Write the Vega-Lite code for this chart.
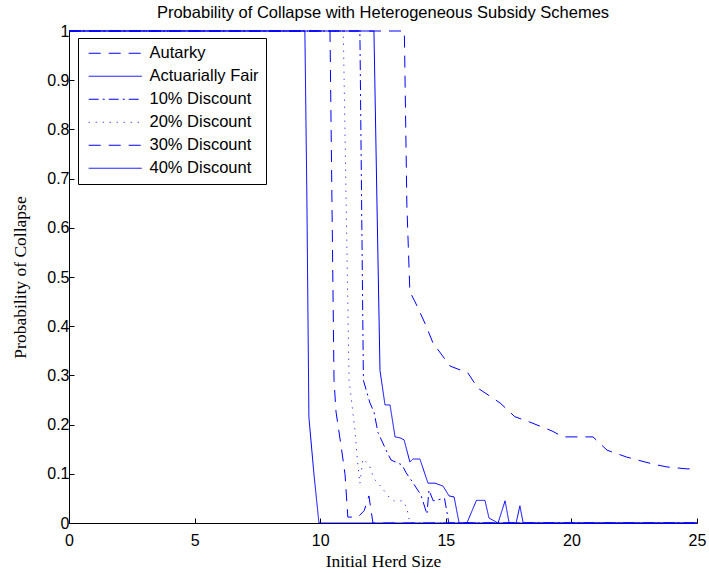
{
  "$schema": "https://vega.github.io/schema/vega-lite/v6.json",
  "width": 628,
  "height": 492,
  "autosize": {"type": "none"},
  "padding": {"left": 69, "top": 31, "right": 12, "bottom": 50},
  "background": "white",
  "title": {
    "text": "Probability of Collapse with Heterogeneous Subsidy Schemes",
    "font": "Liberation Sans",
    "fontSize": 16.5,
    "fontWeight": "normal",
    "color": "black",
    "anchor": "middle",
    "baseline": "alphabetic",
    "frame": "group",
    "offset": 12,
    "dy": 23
  },
  "config": {
    "view": {"stroke": null},
    "axis": {
      "domainColor": "black",
      "tickColor": "black",
      "labelColor": "black",
      "titleColor": "black",
      "grid": false,
      "labelFont": "Liberation Sans",
      "labelFontSize": 16,
      "labelFlush": false,
      "titleFont": "Liberation Serif",
      "titleFontSize": 17.5,
      "titleFontWeight": "normal",
      "tickSize": -5,
      "domainWidth": 1,
      "tickWidth": 1
    }
  },
  "data": {
    "values": [
      {"s": "Autarky", "x": 0, "y": 1},
      {"s": "Autarky", "x": 13.35, "y": 1},
      {"s": "Autarky", "x": 13.45, "y": 0.646},
      {"s": "Autarky", "x": 13.57, "y": 0.47},
      {"s": "Autarky", "x": 13.8, "y": 0.447},
      {"s": "Autarky", "x": 14.17, "y": 0.406},
      {"s": "Autarky", "x": 14.49, "y": 0.366},
      {"s": "Autarky", "x": 15.17, "y": 0.319},
      {"s": "Autarky", "x": 15.88, "y": 0.305},
      {"s": "Autarky", "x": 16.28, "y": 0.274},
      {"s": "Autarky", "x": 17.16, "y": 0.244},
      {"s": "Autarky", "x": 17.75, "y": 0.216},
      {"s": "Autarky", "x": 18.35, "y": 0.205},
      {"s": "Autarky", "x": 19.23, "y": 0.187},
      {"s": "Autarky", "x": 19.67, "y": 0.175},
      {"s": "Autarky", "x": 20.86, "y": 0.175},
      {"s": "Autarky", "x": 21.42, "y": 0.148},
      {"s": "Autarky", "x": 22.2, "y": 0.134},
      {"s": "Autarky", "x": 22.93, "y": 0.124},
      {"s": "Autarky", "x": 23.4, "y": 0.118},
      {"s": "Autarky", "x": 23.8, "y": 0.114},
      {"s": "Autarky", "x": 24.6, "y": 0.11},
      {"s": "Autarky", "x": 25, "y": 0.11},

      {"s": "Actuarially Fair", "x": 0, "y": 1},
      {"s": "Actuarially Fair", "x": 12.14, "y": 1},
      {"s": "Actuarially Fair", "x": 12.26, "y": 0.65},
      {"s": "Actuarially Fair", "x": 12.38, "y": 0.31},
      {"s": "Actuarially Fair", "x": 12.58, "y": 0.24},
      {"s": "Actuarially Fair", "x": 12.78, "y": 0.24},
      {"s": "Actuarially Fair", "x": 12.98, "y": 0.175},
      {"s": "Actuarially Fair", "x": 13.18, "y": 0.173},
      {"s": "Actuarially Fair", "x": 13.34, "y": 0.169},
      {"s": "Actuarially Fair", "x": 13.57, "y": 0.124},
      {"s": "Actuarially Fair", "x": 13.69, "y": 0.13},
      {"s": "Actuarially Fair", "x": 13.97, "y": 0.13},
      {"s": "Actuarially Fair", "x": 14.29, "y": 0.081},
      {"s": "Actuarially Fair", "x": 14.57, "y": 0.081},
      {"s": "Actuarially Fair", "x": 14.89, "y": 0.075},
      {"s": "Actuarially Fair", "x": 15.13, "y": 0.055},
      {"s": "Actuarially Fair", "x": 15.33, "y": 0.053},
      {"s": "Actuarially Fair", "x": 15.53, "y": 0},
      {"s": "Actuarially Fair", "x": 15.84, "y": 0},
      {"s": "Actuarially Fair", "x": 16.22, "y": 0.046},
      {"s": "Actuarially Fair", "x": 16.56, "y": 0.046},
      {"s": "Actuarially Fair", "x": 16.72, "y": 0.01},
      {"s": "Actuarially Fair", "x": 17.08, "y": 0},
      {"s": "Actuarially Fair", "x": 17.36, "y": 0.045},
      {"s": "Actuarially Fair", "x": 17.52, "y": 0},
      {"s": "Actuarially Fair", "x": 17.8, "y": 0},
      {"s": "Actuarially Fair", "x": 17.95, "y": 0.035},
      {"s": "Actuarially Fair", "x": 18.08, "y": 0},
      {"s": "Actuarially Fair", "x": 25, "y": 0},

      {"s": "10% Discount", "x": 0, "y": 1},
      {"s": "10% Discount", "x": 11.58, "y": 1},
      {"s": "10% Discount", "x": 11.72, "y": 0.29},
      {"s": "10% Discount", "x": 11.98, "y": 0.244},
      {"s": "10% Discount", "x": 12.14, "y": 0.226},
      {"s": "10% Discount", "x": 12.3, "y": 0.184},
      {"s": "10% Discount", "x": 12.66, "y": 0.144},
      {"s": "10% Discount", "x": 12.82, "y": 0.128},
      {"s": "10% Discount", "x": 13.26, "y": 0.118},
      {"s": "10% Discount", "x": 13.42, "y": 0.102},
      {"s": "10% Discount", "x": 13.65, "y": 0.085},
      {"s": "10% Discount", "x": 14.01, "y": 0.057},
      {"s": "10% Discount", "x": 14.25, "y": 0.018},
      {"s": "10% Discount", "x": 14.33, "y": 0.067},
      {"s": "10% Discount", "x": 14.5, "y": 0.045},
      {"s": "10% Discount", "x": 14.95, "y": 0.05},
      {"s": "10% Discount", "x": 15.12, "y": 0},
      {"s": "10% Discount", "x": 25, "y": 0},

      {"s": "20% Discount", "x": 0, "y": 1},
      {"s": "20% Discount", "x": 10.92, "y": 1},
      {"s": "20% Discount", "x": 11.15, "y": 0.29},
      {"s": "20% Discount", "x": 11.38, "y": 0.19},
      {"s": "20% Discount", "x": 11.47, "y": 0.134},
      {"s": "20% Discount", "x": 11.58, "y": 0.08},
      {"s": "20% Discount", "x": 11.7, "y": 0.13},
      {"s": "20% Discount", "x": 11.95, "y": 0.118},
      {"s": "20% Discount", "x": 12.14, "y": 0.09},
      {"s": "20% Discount", "x": 12.45, "y": 0.072},
      {"s": "20% Discount", "x": 12.75, "y": 0.052},
      {"s": "20% Discount", "x": 12.95, "y": 0.045},
      {"s": "20% Discount", "x": 13.3, "y": 0.045},
      {"s": "20% Discount", "x": 13.45, "y": 0.03},
      {"s": "20% Discount", "x": 13.57, "y": 0},
      {"s": "20% Discount", "x": 25, "y": 0},

      {"s": "30% Discount", "x": 0, "y": 1},
      {"s": "30% Discount", "x": 10.39, "y": 1},
      {"s": "30% Discount", "x": 10.55, "y": 0.29},
      {"s": "30% Discount", "x": 10.63, "y": 0.226},
      {"s": "30% Discount", "x": 10.85, "y": 0.15},
      {"s": "30% Discount", "x": 10.99, "y": 0.098},
      {"s": "30% Discount", "x": 11.1, "y": 0.012},
      {"s": "30% Discount", "x": 11.5, "y": 0.012},
      {"s": "30% Discount", "x": 11.75, "y": 0.025},
      {"s": "30% Discount", "x": 11.94, "y": 0.055},
      {"s": "30% Discount", "x": 12.1, "y": 0},
      {"s": "30% Discount", "x": 25, "y": 0},

      {"s": "40% Discount", "x": 0, "y": 1},
      {"s": "40% Discount", "x": 9.39, "y": 1},
      {"s": "40% Discount", "x": 9.47, "y": 0.66},
      {"s": "40% Discount", "x": 9.55, "y": 0.215},
      {"s": "40% Discount", "x": 9.75, "y": 0.1},
      {"s": "40% Discount", "x": 9.95, "y": 0},
      {"s": "40% Discount", "x": 25, "y": 0}
    ]
  },
  "mark": {"type": "line", "color": "blue", "strokeWidth": 1, "strokeCap": "butt"},
  "encoding": {
    "x": {
      "field": "x",
      "type": "quantitative",
      "scale": {"domain": [0, 25], "nice": false},
      "axis": {
        "values": [0, 5, 10, 15, 20, 25],
        "title": "Initial Herd Size",
        "labelPadding": 14,
        "titleX": 314,
        "titleY": 43,
        "titleAnchor": "middle",
        "titleBaseline": "alphabetic"
      }
    },
    "y": {
      "field": "y",
      "type": "quantitative",
      "scale": {"domain": [0, 1], "nice": false},
      "axis": {
        "values": [0, 0.1, 0.2, 0.3, 0.4, 0.5, 0.6, 0.7, 0.8, 0.9, 1],
        "format": "~g",
        "title": "Probability of Collapse",
        "labelPadding": 5,
        "titleX": -49,
        "titleY": 246,
        "titleAngle": -90,
        "titleAlign": "center",
        "titleBaseline": "middle"
      }
    },
    "strokeDash": {
      "field": "s",
      "type": "nominal",
      "scale": {
        "domain": ["Autarky", "Actuarially Fair", "10% Discount", "20% Discount", "30% Discount", "40% Discount"],
        "range": [[12, 8], [1, 0], [10, 4, 2, 4], [1, 6], [12, 8], [1, 0]]
      },
      "legend": {
        "title": null,
        "orient": "none",
        "legendX": 9,
        "legendY": 7,
        "strokeColor": "black",
        "fillColor": "white",
        "padding": 7,
        "symbolType": "M-4,0H4",
        "symbolSize": 176,
        "symbolOffset": 22,
        "symbolStrokeColor": "blue",
        "symbolStrokeWidth": 1,
        "labelFont": "Liberation Sans",
        "labelFontSize": 16.5,
        "labelColor": "black",
        "labelOffset": 26,
        "rowPadding": 6,
        "labelLimit": 300
      }
    }
  }
}
